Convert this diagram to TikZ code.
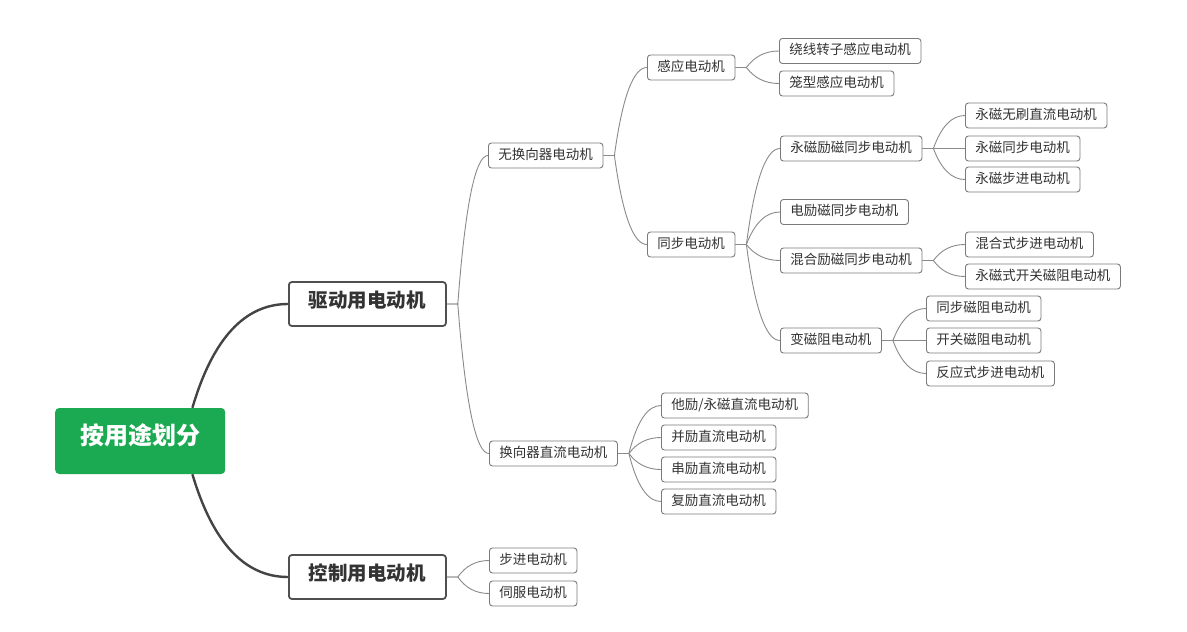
\documentclass[tikz,border=0pt]{standalone}
\usepackage{fontspec}
\newfontfamily\cjk{Noto Sans CJK SC}
\usetikzlibrary{calc}
\definecolor{rootgreen}{HTML}{1BAA52}
\definecolor{boxline}{HTML}{7A7A7A}
\definecolor{lvlline}{HTML}{505050}
\definecolor{txt}{HTML}{333333}
\definecolor{connc}{HTML}{8A8A8A}
\definecolor{rootconn}{HTML}{444444}
\tikzset{
  leaf/.style={draw=boxline, line width=0.9pt, rounded corners=3pt, fill=white, anchor=west,
    font=\cjk\fontsize{13.5}{14}\selectfont, text=txt, inner xsep=10pt, inner ysep=0pt,
    minimum height=25pt, text height=0.85em, text depth=0.15em},
  lvlone/.style={draw=lvlline, line width=1.8pt, rounded corners=3pt, fill=white, anchor=west,
    font=\cjk\bfseries\fontsize{19.5}{20}\selectfont, text=txt, inner xsep=0pt, inner ysep=0pt,
    minimum width=157pt, minimum height=44pt, text height=0.85em, text depth=0.15em},
  rootbox/.style={fill=rootgreen, rounded corners=4pt, anchor=west,
    font=\cjk\bfseries\fontsize{24}{26}\selectfont, text=white, inner sep=0pt,
    minimum width=170pt, minimum height=66pt, text height=0.85em, text depth=0.15em},
  conn/.style={draw=connc, line width=0.9pt},
  rconn/.style={draw=rootconn, line width=2.4pt},
}
\newcommand\conn[2]{\draw[conn] let \p1=($(#1.east)+(11pt,0)$), \p2=(#2.west) in
  (#1.east) -- (\p1) .. controls ({\x1+0.247*(\x2-\x1)},{\y1+0.667*(\y2-\y1)}) and ({\x1+0.58*(\x2-\x1)},{\y2}) .. (\p2);}
\newcommand\rconn[2]{\draw[rconn] let \p1=($(#1.north east)+(-33pt,0)$), \p2=(#2.west) in
  (\p1) .. controls ({\x1+0.213*(\x2-\x1)},{\y1+0.667*(\y2-\y1)}) and ({\x1+0.547*(\x2-\x1)},{\y2}) .. (\p2);}
\newcommand\rconnb[2]{\draw[rconn] let \p1=($(#1.south east)+(-33pt,0)$), \p2=(#2.west) in
  (\p1) .. controls ({\x1+0.213*(\x2-\x1)},{\y1+0.667*(\y2-\y1)}) and ({\x1+0.547*(\x2-\x1)},{\y2}) .. (\p2);}
\begin{document}
\begin{tikzpicture}[x=1pt,y=-1pt]
\useasboundingbox[fill=white] (0,0) rectangle (1187,632);
\node[rootbox] (root) at (55,441) {按用途划分};
\node[lvlone] (drv) at (288,304) {驱动用电动机};
\node[lvlone] (ctl) at (288,577) {控制用电动机};
\node[leaf] (A) at (488,155.5) {无换向器电动机};
\node[leaf] (B) at (489,453.5) {换向器直流电动机};
\node[leaf] (A1) at (647,67.5) {感应电动机};
\node[leaf] (A2) at (647,244.5) {同步电动机};
\node[leaf] (A11) at (779,51) {绕线转子感应电动机};
\node[leaf] (A12) at (779,83.5) {笼型感应电动机};
\node[leaf] (A21) at (780,148.5) {永磁励磁同步电动机};
\node[leaf] (A22) at (780,212) {电励磁同步电动机};
\node[leaf] (A23) at (780,260.5) {混合励磁同步电动机};
\node[leaf] (A24) at (780,340.5) {变磁阻电动机};
\node[leaf] (A211) at (965,115.5) {永磁无刷直流电动机};
\node[leaf] (A212) at (965,148.5) {永磁同步电动机};
\node[leaf] (A213) at (965,179.5) {永磁步进电动机};
\node[leaf] (A231) at (965,244.5) {混合式步进电动机};
\node[leaf] (A232) at (965,276.5) {永磁式开关磁阻电动机};
\node[leaf] (A241) at (926,308.5) {同步磁阻电动机};
\node[leaf] (A242) at (926,340.5) {开关磁阻电动机};
\node[leaf] (A243) at (926,373.5) {反应式步进电动机};
\node[leaf] (B1) at (661,405.5) {他励/永磁直流电动机};
\node[leaf] (B2) at (661,437.5) {并励直流电动机};
\node[leaf] (B3) at (661,469.5) {串励直流电动机};
\node[leaf] (B4) at (661,501.5) {复励直流电动机};
\node[leaf] (C1) at (489,560.5) {步进电动机};
\node[leaf] (C2) at (489,593.5) {伺服电动机};
\rconn{root}{drv}
\rconnb{root}{ctl}
\conn{drv}{A}\conn{drv}{B}
\conn{ctl}{C1}\conn{ctl}{C2}
\conn{A}{A1}\conn{A}{A2}
\conn{A1}{A11}\conn{A1}{A12}
\conn{A2}{A21}\conn{A2}{A22}\conn{A2}{A23}\conn{A2}{A24}
\conn{A21}{A211}\conn{A21}{A212}\conn{A21}{A213}
\conn{A23}{A231}\conn{A23}{A232}
\conn{A24}{A241}\conn{A24}{A242}\conn{A24}{A243}
\conn{B}{B1}\conn{B}{B2}\conn{B}{B3}\conn{B}{B4}
\end{tikzpicture}
\end{document}
